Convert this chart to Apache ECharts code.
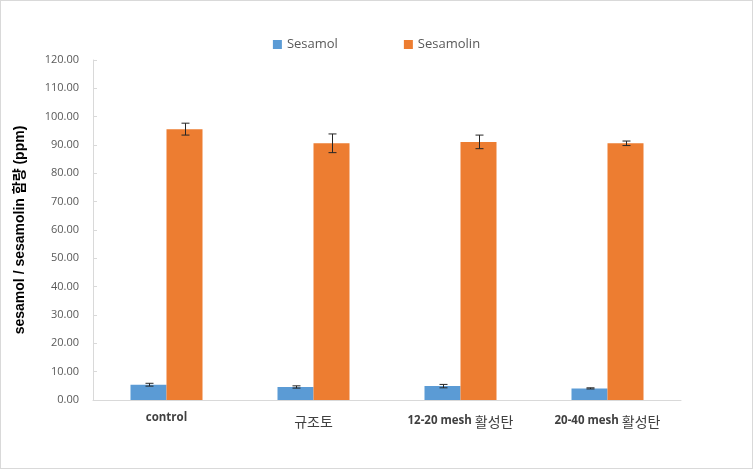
<!DOCTYPE html>
<html>
<head>
<meta charset="utf-8">
<script src="https://cdn.jsdelivr.net/npm/echarts@6/dist/echarts.min.js"></script>
<style>
html,body{margin:0;padding:0;background:#fff;}
#c{width:753px;height:469px;box-sizing:border-box;border:1px solid #d9d9d9;}
</style>
</head>
<body>
<div id="c"></div>
<script>
const categories = ['control', '규조토', '12-20 mesh 활성탄', '20-40 mesh 활성탄'];
const sesamol = [5.4, 4.6, 4.9, 4.1];
const sesamolErr = [0.5, 0.4, 0.6, 0.2];
const sesamolin = [95.6, 90.6, 91.1, 90.6];
const sesamolinErr = [2.1, 3.3, 2.4, 0.8];
const yTicks = [0, 10, 20, 30, 40, 50, 60, 70, 80, 90, 100, 110, 120];

const BAR_W = 36;
const FONT = '"Open Sans","Noto Sans CJK KR",sans-serif';

function errSeries(name, vals, errs, offset) {
  return {
    type: 'custom',
    name: name + ' err',
    z: 10,
    silent: true,
    data: vals.map((v, i) => [i, v - errs[i], v + errs[i]]),
    renderItem: function (params, api) {
      const lo = api.coord([api.value(0), api.value(1)]);
      const hi = api.coord([api.value(0), api.value(2)]);
      const x = Math.round(lo[0] + offset) + 0.5;
      const cap = 4;
      const st = { stroke: '#262626', lineWidth: 1 };
      return {
        type: 'group',
        children: [
          { type: 'line', shape: { x1: x, y1: hi[1], x2: x, y2: lo[1] }, style: st },
          { type: 'line', shape: { x1: x - cap, y1: hi[1], x2: x + cap, y2: hi[1] }, style: st },
          { type: 'line', shape: { x1: x - cap, y1: lo[1], x2: x + cap, y2: lo[1] }, style: st }
        ]
      };
    }
  };
}

const chart = echarts.init(document.getElementById('c'));
chart.setOption({
  animation: false,
  backgroundColor: '#fff',
  legend: {
    top: 32,
    left: 'center',
    itemGap: 66,
    itemWidth: 9,
    itemHeight: 9,
    icon: 'rect',
    data: ['Sesamol', 'Sesamolin'],
    textStyle: { color: '#595959', fontSize: 13, fontFamily: FONT }
  },
  grid: { left: 92, right: 71, top: 59, bottom: 68, containLabel: false },
  xAxis: {
    type: 'category',
    data: categories,
    axisLine: { lineStyle: { color: '#d9d9d9', width: 1 } },
    axisTick: { show: false },
    axisLabel: {
      color: '#404040',
      fontSize: 11.5,
      fontWeight: 'bold',
      fontFamily: FONT,
      margin: 12,
      interval: 0,
      formatter: function (v) {
        return v.replace(/([\uAC00-\uD7A3]+)/g, '{k|$1}');
      },
      rich: {
        k: {
          fontSize: 14,
          fontWeight: 'normal',
          color: '#404040',
          fontFamily: '"Noto Sans CJK KR",sans-serif',
          padding: [3, 0, 0, 0]
        }
      }
    }
  },
  yAxis: {
    type: 'value',
    min: yTicks[0],
    max: yTicks[yTicks.length - 1],
    interval: 10,
    name: 'sesamol / sesamolin 함량 (ppm)',
    nameLocation: 'middle',
    nameGap: 66,
    nameTextStyle: {
      color: '#000',
      fontSize: 14,
      fontWeight: 'bold',
      fontFamily: '"Liberation Sans","Noto Sans CJK KR",sans-serif'
    },
    axisLine: { show: true, lineStyle: { color: '#d9d9d9' } },
    axisTick: { show: true, inside: true, length: 4, lineStyle: { color: '#d9d9d9' } },
    splitLine: { show: false },
    axisLabel: {
      color: '#595959',
      fontSize: 11,
      fontFamily: FONT,
      margin: 14,
      formatter: v => v.toFixed(2)
    }
  },
  series: [
    {
      name: 'Sesamol',
      type: 'bar',
      data: sesamol,
      barWidth: BAR_W,
      barGap: '0%',
      itemStyle: { color: '#5B9BD5' }
    },
    {
      name: 'Sesamolin',
      type: 'bar',
      data: sesamolin,
      barWidth: BAR_W,
      barGap: '0%',
      itemStyle: { color: '#ED7D31' }
    },
    errSeries('Sesamol', sesamol, sesamolErr, -BAR_W / 2),
    errSeries('Sesamolin', sesamolin, sesamolinErr, BAR_W / 2)
  ]
});
</script>
</body>
</html>
